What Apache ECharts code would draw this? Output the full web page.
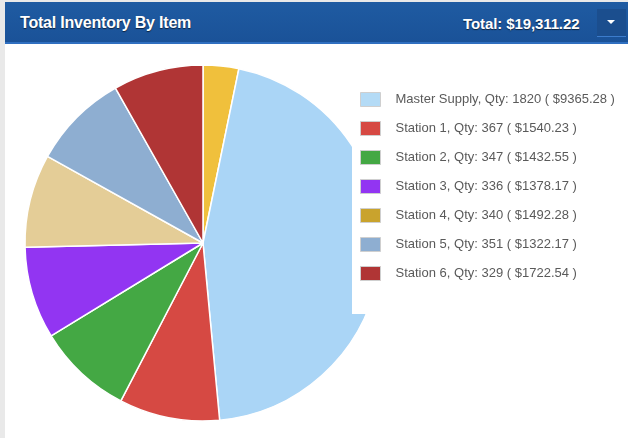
<!DOCTYPE html>
<html>
<head>
<meta charset="utf-8">
<script src="https://cdn.jsdelivr.net/npm/echarts@6/dist/echarts.min.js"></script>
<style>
  html, body { margin: 0; padding: 0; background: #e9e9e9; }
  .card { position: absolute; left: 5px; top: 2px; width: 623px; height: 436px; background: #fff; }
  .head {
    position: absolute; left: 0; top: 0; width: 623px; height: 40px;
    background: linear-gradient(#1f5ba2, #1a5298);
    border-bottom: 2px solid #2f6fc0;
    font-family: "Liberation Sans", Arial, sans-serif; color: #fff; font-weight: bold;
    text-shadow: 0 1px 1px rgba(0,0,0,0.6);
  }
  .head .ttl { position: absolute; left: 15px; top: 12px; font-size: 16px; letter-spacing: -0.2px; }
  .head .tot { position: absolute; left: 458px; top: 13px; font-size: 15px; letter-spacing: -0.1px; }
  .head .btn {
    position: absolute; left: 592px; top: 7px; width: 29px; height: 27px;
    background: #1b4e8e; border-bottom: 1px solid #3c7ccc;
  }
  .head .btn:after {
    content: ""; position: absolute; left: 10px; top: 11px;
    border-left: 4px solid transparent; border-right: 4px solid transparent; border-top: 4px solid #fff;
  }
  #chart { position: absolute; left: 0; top: 0; width: 628px; height: 438px; }
</style>
</head>
<body>
<div class="card">
  <div class="head">
    <span class="ttl">Total Inventory By Item</span>
    <span class="tot">Total: $19,311.22</span>
    <span class="btn"></span>
  </div>
</div>
<div id="chart"></div>
<script>
// items in drawing order (first one starts at 12 o'clock)
const itemNames = ['Other', 'Master Supply', 'Station 1', 'Station 2', 'Station 3', 'Station 4', 'Station 5', 'Station 6'];
const itemQty = [130, 1820, 367, 347, 336, 340, 351, 329];
const itemAmount = [1058.00, 9365.28, 1540.23, 1432.55, 1378.17, 1492.28, 1322.17, 1722.54];
const sliceColors = ['#f0c03c', '#aad5f6', '#d64943', '#44a844', '#9235f2', '#e4cd97', '#8eaed1', '#b03535'];
const legendColors = ['#f0c03c', '#b4dbf6', '#d64943', '#44a844', '#9235f2', '#c9a32d', '#8eaed1', '#b03535'];
const legendNames = itemNames.slice(1);

const chart = echarts.init(document.getElementById('chart'));

const option = {
  animation: false,
  legend: {
    orient: 'vertical',
    left: 352,
    top: 72,
    right: 0,
    backgroundColor: '#fff',
    padding: [20, 10, 33, 8],
    itemWidth: 20,
    itemHeight: 14,
    itemGap: 14,
    selectedMode: false,
    textStyle: { color: '#5a5a5a', fontSize: 13, fontFamily: 'Liberation Sans, Arial, sans-serif', padding: [0, 0, 0, 10] },
    data: legendNames.map(n => {
      const i = itemNames.indexOf(n);
      return { name: n, icon: 'rect', itemStyle: { color: legendColors[i], borderColor: '#cfcfcf', borderWidth: 1 } };
    }),
    formatter: name => {
      const i = itemNames.indexOf(name);
      return `${name}, Qty: ${itemQty[i]} ( $${itemAmount[i].toFixed(2)} )`;
    }
  },
  series: [{
    type: 'pie',
    center: [203, 243],
    radius: 178,
    startAngle: 90,
    clockwise: true,
    label: { show: false },
    labelLine: { show: false },
    emphasis: { disabled: true },
    itemStyle: { borderColor: '#fff', borderWidth: 1.5 },
    data: itemNames.map((n, i) => ({ name: n, value: itemQty[i], itemStyle: { color: sliceColors[i] } }))
  }]
};

chart.setOption(option);
</script>
</body>
</html>
